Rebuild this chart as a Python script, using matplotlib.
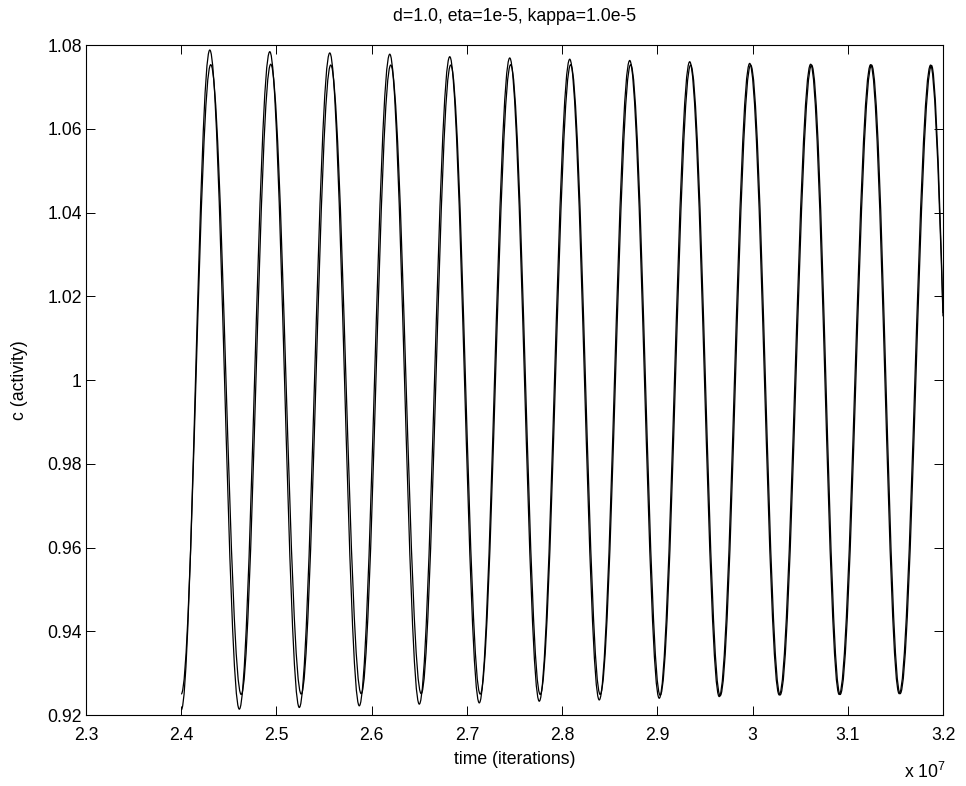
import matplotlib
matplotlib.use("Agg")
import matplotlib.pyplot as plt
from matplotlib.path import Path
from matplotlib.patches import PathPatch
from matplotlib.ticker import FixedLocator, FuncFormatter
from matplotlib import font_manager

names = {f.name for f in font_manager.fontManager.ttflist}
main_font = 'Liberation Sans Narrow' if 'Liberation Sans Narrow' in names else 'Liberation Sans'
FS = 15.5 if main_font == 'Liberation Sans Narrow' else 12.7

plt.rcParams['font.family'] = [main_font, 'DejaVu Sans']
plt.rcParams['mathtext.fontset'] = 'custom'
plt.rcParams['mathtext.rm'] = main_font
plt.rcParams['mathtext.it'] = main_font

# ---- data (time in units of 1e7 iterations) ----
# curve A: decaying amplitude (extrema alternate trough/peak, starting at t=2.40)
a_ext_time = [2.400, 2.430, 2.461, 2.493, 2.524, 2.556, 2.587, 2.619, 2.650, 2.682,
              2.713, 2.745, 2.776, 2.808, 2.839, 2.871, 2.902, 2.934, 2.965, 2.997,
              3.028, 3.061, 3.091, 3.124, 3.154, 3.187]
a_ext_value = [0.9212, 1.0788, 0.9214, 1.0784, 0.9218, 1.0781, 0.9222, 1.0778, 0.9226, 1.0772,
               0.9229, 1.0769, 0.9233, 1.0766, 0.9236, 1.0763, 0.9240, 1.0760, 0.9244, 1.0756,
               0.9248, 1.0754, 0.9249, 1.0753, 0.9251, 1.0752]
a_end = (3.200, 1.0152)

# curve B: nearly constant amplitude
b_ext_time = [2.400, 2.431, 2.463, 2.494, 2.526, 2.557, 2.589, 2.620, 2.652, 2.683,
              2.714, 2.746, 2.777, 2.809, 2.840, 2.872, 2.903, 2.935, 2.966, 2.998,
              3.029, 3.062, 3.092, 3.125, 3.155, 3.188]
b_ext_value = [0.9250, 1.0753, 0.9249, 1.0754, 0.9250, 1.0752, 0.9251, 1.0752, 0.9251, 1.0752,
               0.9250, 1.0753, 0.9249, 1.0753, 0.9249, 1.0753, 0.9247, 1.0752, 0.9246, 1.0752,
               0.9248, 1.0752, 0.9249, 1.0752, 0.9251, 1.0751]
b_end = (3.200, 1.0160)

x_ticks = [2.3, 2.4, 2.5, 2.6, 2.7, 2.8, 2.9, 3.0, 3.1, 3.2]
y_ticks = [0.92, 0.94, 0.96, 0.98, 1.00, 1.02, 1.04, 1.06, 1.08]

title_text = 'd=1.0, eta=1e-5, kappa=1.0e-5'
xlabel_text = 'time (iterations)'
ylabel_text = 'c (activity)'


def smooth_path(times, values, end):
    """Smooth curve through alternating extrema (horizontal tangents at extrema)."""
    k = 0.3634
    verts = [(times[0], values[0])]
    codes = [Path.MOVETO]
    for i in range(len(times) - 1):
        x0, y0, x1, y1 = times[i], values[i], times[i + 1], values[i + 1]
        dx = x1 - x0
        verts += [(x0 + k * dx, y0), (x1 - k * dx, y1), (x1, y1)]
        codes += [Path.CURVE4] * 3
    x0, y0 = times[-1], values[-1]
    dx = end[0] - x0
    verts += [(x0 + 0.405 * dx, y0), end]
    codes += [Path.CURVE3] * 2
    return Path(verts, codes)


fig = plt.figure(figsize=(9.66, 7.86), dpi=100)
ax = fig.add_axes([86 / 966, 71 / 786, 857 / 966, 670 / 786])

for t, v, e in [(a_ext_time, a_ext_value, a_end), (b_ext_time, b_ext_value, b_end)]:
    ax.add_patch(PathPatch(smooth_path(t, v, e), fill=False, edgecolor='black',
                           linewidth=0.9, transform=ax.transData, clip_on=True))

ax.set_xlim(2.3, 3.2)
ax.set_ylim(0.92, 1.08)
ax.xaxis.set_major_locator(FixedLocator(x_ticks))
ax.yaxis.set_major_locator(FixedLocator(y_ticks))
fmt = FuncFormatter(lambda v, p: ('%.2f' % v).rstrip('0').rstrip('.'))
ax.xaxis.set_major_formatter(fmt)
ax.yaxis.set_major_formatter(fmt)

ax.tick_params(direction='in', length=6.2, width=0.7, top=True, right=True,
               labelsize=FS)
ax.tick_params(axis='x', pad=9)
ax.tick_params(axis='y', pad=3)
for s in ax.spines.values():
    s.set_linewidth(0.8)

ax.set_title(title_text, fontsize=FS, pad=17)
ax.set_xlabel(xlabel_text, fontsize=FS)
ax.xaxis.set_label_coords(0.5, -0.054)
ax.set_ylabel(ylabel_text, fontsize=FS)
ax.yaxis.set_label_coords(-0.068, 0.5)
fig.text(946 / 966, 14 / 786, r'x 10$^{7}$', fontsize=FS, ha='right', va='center')

fig.savefig('out.png', dpi=100)
